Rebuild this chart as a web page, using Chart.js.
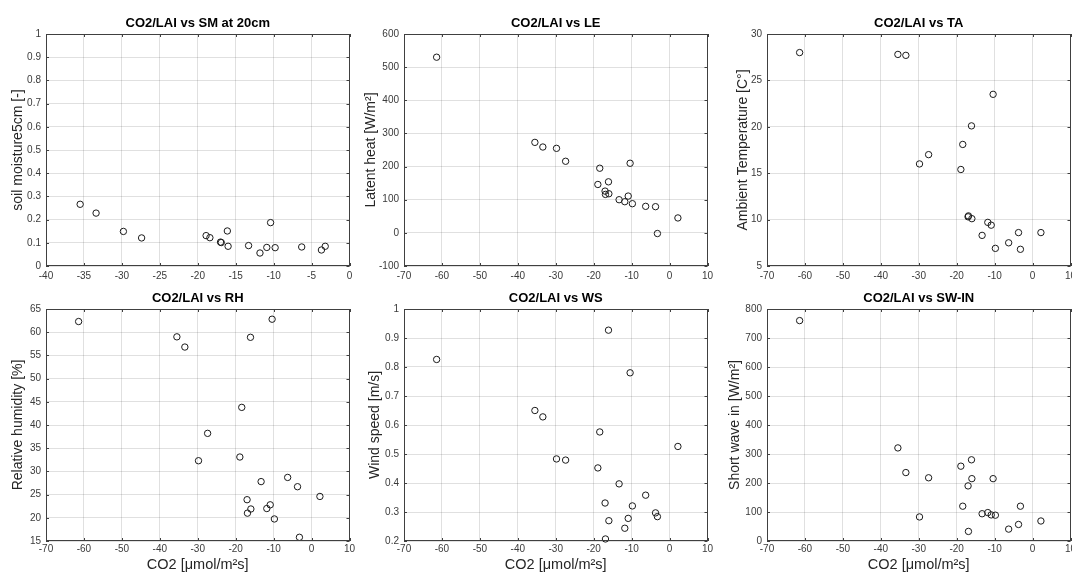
<!DOCTYPE html>
<html>
<head>
<meta charset="utf-8">
<script src="https://cdn.jsdelivr.net/npm/chart.js@4/dist/chart.umd.min.js"></script>
<style>
    html, body { margin: 0; padding: 0; background: #fff; }
    #page { position: relative; width: 1072px; height: 580px; overflow: hidden; background: #fff; }
    .panel { position: absolute; }
</style>
</head>
<body>
<div id="page"></div>
<script>
// CO2/LAI flux, same x values in all six panels
var co2 = [-61.4, -35.5, -33.4, -29.8, -27.4, -18.9, -18.4, -17.0, -16.9, -16.1,
           -16.0, -13.3, -11.8, -10.9, -10.4, -9.8, -6.3, -3.7, -3.2, 2.2];

var soilMoisture = [null, 0.266, 0.228, 0.149, 0.121, 0.131, 0.122, 0.103, 0.101, 0.151,
                    0.085, 0.088, 0.056, 0.080, 0.187, 0.079, 0.082, 0.069, 0.085, null];
var latentHeat = [530, 273, 259, 255, 216, 146, 195, 126, 116, 154,
                  118, 100, 94, 111, 210, 88, 80, 79, -2, 45];
var airTemp = [28.0, 27.8, 27.7, 16.0, 17.0, 15.4, 18.1, 10.3, 10.4, 20.1,
               10.1, 8.3, 9.7, 9.4, 23.5, 6.9, 7.5, 8.6, 6.8, 8.6];
var relHumidity = [62.3, 59.0, 56.8, 32.3, 38.2, 33.1, 43.8, 23.9, 21.0, 58.9,
                   21.9, 27.8, 22.0, 22.8, 62.8, 19.75, 28.7, 26.7, 15.8, 24.6];
var windSpeed = [0.826, 0.650, 0.628, 0.483, 0.479, 0.452, 0.576, 0.331, 0.207, 0.927,
                 0.270, 0.397, 0.244, 0.278, 0.780, 0.321, 0.358, 0.297, 0.284, 0.526];
var shortWave = [760, 321, 236, 83, 218, 258, 120, 190, 33, 280,
                 215, 94, 98, 90, 215, 89, 41, 57, 120, 69];

// axis ranges [min, max, step]
var xRangeSM = [-40, 0, 5];
var xRangeAll = [-70, 10, 10];
var yRangeSM = [0, 1, 0.1];
var yRangeLE = [-100, 600, 100];
var yRangeTA = [5, 30, 5];
var yRangeRH = [15, 65, 5];
var yRangeWS = [0.2, 1, 0.1];
var yRangeSW = [0, 800, 100];

var xLabel = 'CO2 [μmol/m²s]';

var FONT = "'Liberation Sans', Arial, Helvetica, sans-serif";
var AXIS_COLOR = '#404040';
var TICK_COLOR = '#3a3a3a';
var GRID_COLOR = 'rgba(38,38,38,0.14)';

var panels = [
    { title: 'CO2/LAI vs SM at 20cm', yLabel: 'soil moisture5cm [-]', y: soilMoisture, xr: xRangeSM, yr: yRangeSM, col: 0, row: 0, yPad: 9.6 },
    { title: 'CO2/LAI vs LE', yLabel: 'Latent heat [W/m²]', y: latentHeat, xr: xRangeAll, yr: yRangeLE, col: 1, row: 0, yPad: 5 },
    { title: 'CO2/LAI vs TA', yLabel: 'Ambient Temperature [C°]', y: airTemp, xr: xRangeAll, yr: yRangeTA, col: 2, row: 0, yPad: 13.6 },
    { title: 'CO2/LAI vs RH', yLabel: 'Relative humidity [%]', y: relHumidity, xr: xRangeAll, yr: yRangeRH, col: 0, row: 1, yPad: 10 },
    { title: 'CO2/LAI vs WS', yLabel: 'Wind speed [m/s]', y: windSpeed, xr: xRangeAll, yr: yRangeWS, col: 1, row: 1, yPad: 8.3 },
    { title: 'CO2/LAI vs SW-IN', yLabel: 'Short wave in [W/m²]', y: shortWave, xr: xRangeAll, yr: yRangeSW, col: 2, row: 1, yPad: 5.3 }
];

var colLefts = [0, 358, 721];
var rowTops = [0, 275];
var rowHeights = [285, 305];

// MATLAB style labels: 0, 0.1 ... 1 (no trailing zeros)
function plainTick(v) {
    return String(Number(v.toFixed(3)));
}

// axes box with small inward ticks, like the original figure
var boxPlugin = {
    id: 'axesBox',
    afterDraw: function (chart) {
        var a = chart.chartArea, ctx = chart.ctx;
        var xs = chart.scales.x, ys = chart.scales.y;
        ctx.save();
        ctx.strokeStyle = AXIS_COLOR;
        ctx.lineWidth = 1;
        ctx.strokeRect(Math.round(a.left) + 0.5, Math.round(a.top) + 0.5,
                       Math.round(a.right - a.left) - 1, Math.round(a.bottom - a.top) - 1);
        ctx.beginPath();
        xs.ticks.forEach(t => {
            var px = Math.round(xs.getPixelForValue(t.value)) + 0.5;
            ctx.moveTo(px, a.bottom); ctx.lineTo(px, a.bottom - 3);
            ctx.moveTo(px, a.top); ctx.lineTo(px, a.top + 3);
        });
        ys.ticks.forEach(t => {
            var py = Math.round(ys.getPixelForValue(t.value)) + 0.5;
            ctx.moveTo(a.left, py); ctx.lineTo(a.left + 3, py);
            ctx.moveTo(a.right, py); ctx.lineTo(a.right - 3, py);
        });
        ctx.stroke();
        ctx.restore();
    }
};

function makePanel(p) {
    var div = document.createElement('div');
    div.className = 'panel';
    div.style.left = colLefts[p.col] + 'px';
    div.style.top = rowTops[p.row] + 'px';
    var canvas = document.createElement('canvas');
    canvas.width = 360;
    canvas.height = rowHeights[p.row];
    canvas.style.width = '360px';
    canvas.style.height = rowHeights[p.row] + 'px';
    div.appendChild(canvas);
    document.getElementById('page').appendChild(div);

    var pts = [];
    co2.forEach((x, i) => {
        if (p.y[i] !== null) pts.push({ x: x, y: p.y[i] });
    });

    var bottomRow = p.row === 1;

    new Chart(canvas.getContext('2d'), {
        type: 'scatter',
        data: {
            datasets: [{
                data: pts,
                pointStyle: 'circle',
                pointRadius: 3.2,
                pointHoverRadius: 3.2,
                borderWidth: 1,
                borderColor: '#1a1a1a',
                backgroundColor: 'rgba(0,0,0,0)',
                clip: false
            }]
        },
        options: {
            responsive: false,
            animation: false,
            events: [],
            layout: { padding: { left: 0, right: 10.5, top: 0, bottom: 0 } },
            plugins: {
                legend: { display: false },
                tooltip: { enabled: false },
                title: {
                    display: true,
                    text: p.title,
                    fullSize: false,
                    color: '#000',
                    font: { family: FONT, size: 13, weight: 'bold', lineHeight: 1.2 },
                    padding: { top: 15.2, bottom: 3.2 }
                }
            },
            scales: {
                x: {
                    type: 'linear',
                    min: p.xr[0],
                    max: p.xr[1],
                    ticks: {
                        stepSize: p.xr[2],
                        color: TICK_COLOR,
                        font: { family: FONT, size: 10 },
                        padding: bottomRow ? 2 : 4,
                        maxRotation: 0,
                        autoSkip: false,
                        callback: plainTick
                    },
                    grid: { color: GRID_COLOR, drawTicks: false },
                    border: { display: false },
                    title: {
                        display: bottomRow,
                        text: xLabel,
                        color: '#262626',
                        font: { family: FONT, size: 14.5, lineHeight: 1.2 },
                        padding: { top: 0, bottom: 6.6 }
                    },
                    afterFit: s => { s.height = bottomRow ? 39 : 19; }
                },
                y: {
                    type: 'linear',
                    min: p.yr[0],
                    max: p.yr[1],
                    ticks: {
                        stepSize: p.yr[2],
                        color: TICK_COLOR,
                        font: { family: FONT, size: 10 },
                        padding: 5,
                        autoSkip: false,
                        callback: plainTick
                    },
                    grid: { color: GRID_COLOR, drawTicks: false },
                    border: { display: false },
                    title: {
                        display: true,
                        text: p.yLabel,
                        color: '#262626',
                        font: { family: FONT, size: 14, lineHeight: 1.2 },
                        padding: { top: p.yPad, bottom: 0 }
                    },
                    afterFit: s => { s.width = 46; }
                }
            }
        },
        plugins: [boxPlugin]
    });
}

panels.forEach(makePanel);
</script>
</body>
</html>
